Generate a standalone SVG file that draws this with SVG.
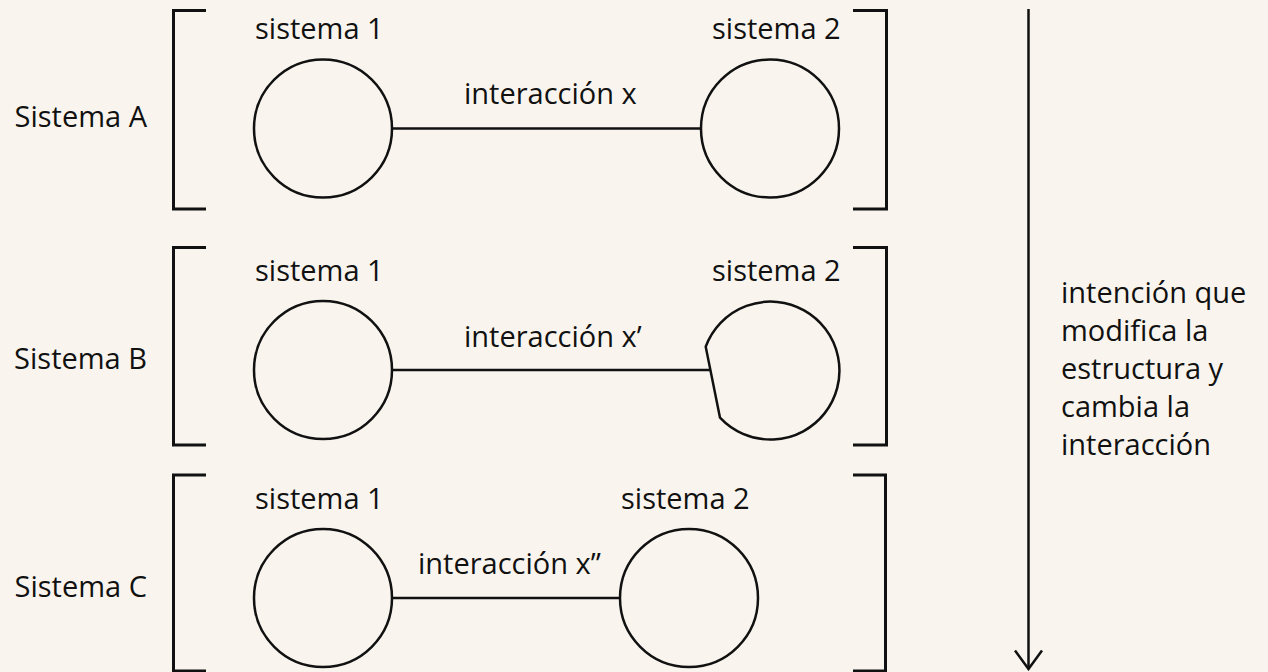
<svg xmlns="http://www.w3.org/2000/svg" width="1268" height="672" viewBox="0 0 1268 672">
  <style>
    .bg { fill: #f9f5ee; }
    .txt { font-family: "Open Sans", "Noto Sans", "Liberation Sans", sans-serif; font-size: 29px; fill: #111; }
    .end { text-anchor: end; }
    .ring { fill: none; stroke: #111; stroke-width: 2.5; }
    .bracket { fill: none; stroke: #111; stroke-width: 3; }
    .link { fill: none; stroke: #111; stroke-width: 2.5; }
  </style>
  <defs>
    <!-- open V arrowhead, drawn along +x so orient="auto" follows the line -->
    <marker id="openArrow" viewBox="0 0 22 30" refX="20" refY="15" markerWidth="22" markerHeight="30" markerUnits="userSpaceOnUse" orient="auto">
      <path d="M1.5,1.5 L20,15 L1.5,28.5" fill="none" stroke="#111" stroke-width="2.5"/>
    </marker>
  </defs>

  <rect class="bg" x="0" y="0" width="1268" height="672"/>

  <!-- System A -->
  <g id="sistema-a">
    <text class="txt end" x="147" y="127">Sistema A</text>
    <path class="bracket" d="M206,10.5 H173.5 V209 H206"/>
    <path class="bracket" d="M853,10.5 H886.5 V209 H853"/>
  </g>
  <g id="a-sistema-1">
    <text class="txt" x="255" y="39">sistema 1</text>
    <circle class="ring" cx="323" cy="128.5" r="69"/>
  </g>
  <g id="a-sistema-2">
    <text class="txt" x="712" y="39">sistema 2</text>
    <circle class="ring" cx="770" cy="128.5" r="69"/>
  </g>

  <!-- System B -->
  <g id="sistema-b">
    <text class="txt end" x="147" y="368.5">Sistema B</text>
    <path class="bracket" d="M206,247.5 H173.5 V445 H206"/>
    <path class="bracket" d="M853,247.5 H886.5 V445 H853"/>
  </g>
  <g id="b-sistema-1">
    <text class="txt" x="255" y="281">sistema 1</text>
    <circle class="ring" cx="323" cy="370" r="69"/>
  </g>
  <g id="b-sistema-2">
    <text class="txt" x="712" y="281">sistema 2</text>
    <!-- circle with a flattened left side where the interaction meets it -->
    <path class="ring" d="M705.7,346.7 A69,69 0 1,1 720,417.7 L705.7,346.7 Z"/>
  </g>

  <!-- System C -->
  <g id="sistema-c">
    <text class="txt end" x="147" y="596.5">Sistema C</text>
    <path class="bracket" d="M206,475 H173.5 V671 H206"/>
    <path class="bracket" d="M853,475 H885.5 V671 H853"/>
  </g>
  <g id="c-sistema-1">
    <text class="txt" x="255" y="509">sistema 1</text>
    <circle class="ring" cx="323" cy="598" r="69"/>
  </g>
  <g id="c-sistema-2">
    <text class="txt" x="621" y="509">sistema 2</text>
    <circle class="ring" cx="689" cy="598" r="69"/>
  </g>

  <!-- Interactions between the two systems -->
  <g id="connectors">
    <line class="link" x1="392" y1="128.5" x2="701" y2="128.5"/>
    <text class="txt" x="464" y="103.5">interacción x</text>
    <line class="link" x1="392" y1="370" x2="710.4" y2="370"/>
    <text class="txt" x="464" y="346.5">interacción x’</text>
    <line class="link" x1="392" y1="598" x2="620" y2="598"/>
    <text class="txt" x="418" y="573.5">interacción x”</text>

    <!-- intention arrow running down the right side -->
    <line class="link" x1="1028.5" y1="9" x2="1028.5" y2="669" marker-end="url(#openArrow)"/>
  </g>

  <g id="intencion">
    <text class="txt" x="1061" y="302.5">intención que</text>
    <text class="txt" x="1061" y="340.5">modifica la</text>
    <text class="txt" x="1061" y="378.5">estructura y</text>
    <text class="txt" x="1061" y="416.5">cambia la</text>
    <text class="txt" x="1061" y="454.5">interacción</text>
  </g>
</svg>
